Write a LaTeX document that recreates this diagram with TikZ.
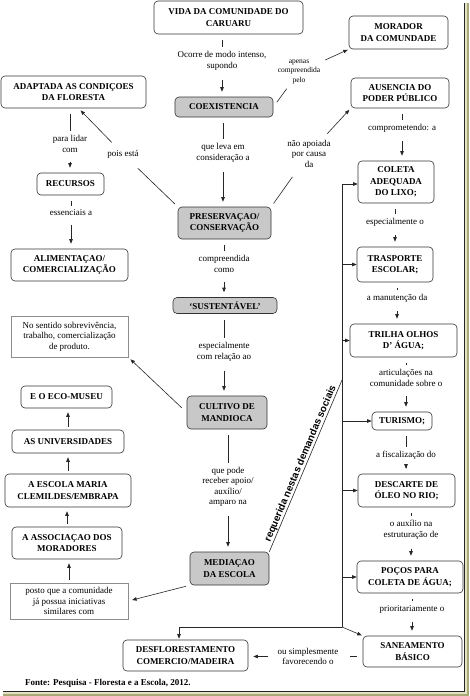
\documentclass[tikz,border=0pt]{standalone}
\usepackage{fontspec}
\setmainfont{Liberation Serif}
\setsansfont{Liberation Sans}
\usetikzlibrary{arrows.meta}
\definecolor{boxgray}{RGB}{200,200,200}
\definecolor{frameA}{RGB}{228,228,196}
\definecolor{frameB}{RGB}{170,170,120}
\begin{document}
\begin{tikzpicture}[x=1pt,y=-1pt,
  cbox/.style 2 args={draw=black!80, line width=0.6pt, rounded corners=4pt,
    font=\bfseries\fontsize{9}{11.5}\selectfont, align=center, inner sep=0pt,
    minimum width=#1, minimum height=#2},
  gbox/.style 2 args={cbox={#1}{#2}, fill=boxgray},
  nbox/.style 2 args={draw=black!45, line width=0.5pt, font=\fontsize{9}{10.5}\selectfont,
    align=center, inner sep=0pt, minimum width=#1, minimum height=#2},
  lbl/.style={font=\fontsize{9}{10.5}\selectfont, align=center, inner sep=3pt},
  slbl/.style={font=\fontsize{7.5}{9.5}\selectfont, align=center, inner sep=2pt},
  ln/.style={draw=black!85, line width=0.6pt, shorten <=6pt, shorten >=1pt},
  ar/.style={draw=black!85, line width=0.6pt, shorten <=6pt, shorten >=5pt,
    -{Triangle[length=4.5pt,width=3.5pt]}},
  bus/.style={draw=black!85, line width=0.6pt},
  busar/.style={bus, -{Triangle[length=4.5pt,width=3.5pt]}},
]
\fill[white] (0,0) rectangle (469,696);
\useasboundingbox (0,0) rectangle (469,696);
% frame shadow
\fill[frameA] (465,3) rectangle (467,693);
\fill[frameB] (467,3) rectangle (469,696);
\fill[frameA] (3,692) rectangle (467,694);
\fill[frameB] (3,694) rectangle (469,696);
\draw[black!85, line width=0.8pt] (464.6,3) -- (464.6,691.4) -- (3,691.4);

% concept boxes
\node[cbox={149pt}{33pt}] (vida) at (228.5,17.5) {VIDA DA COMUNIDADE DO\\CARUARU};
\node[gbox={98pt}{20pt}] (coex) at (224,107) {COEXISTENCIA};
\node[cbox={99pt}{33pt}] (morador) at (398.5,32.5) {MORADOR\\DA COMUNDADE};
\node[cbox={145pt}{32pt}] (adapt) at (73.5,92) {ADAPTADA AS CONDIÇOES\\DA FLORESTA};
\node[cbox={98pt}{30pt}] (ausen) at (400,93) {AUSENCIA DO\\PODER PÚBLICO};
\node[cbox={76pt}{42pt}] (coleta) at (396,182) {COLETA\\ADEQUADA\\DO LIXO;};
\node[cbox={67pt}{22pt}] (recur) at (70.5,184) {RECURSOS};
\node[cbox={117pt}{32pt}] (alim) at (69.5,265) {ALIMENTAÇAO/\\COMERCIALIZAÇÃO};
\node[gbox={93pt}{32pt}] (preserv) at (224.5,223) {PRESERVAÇAO/\\CONSERVAÇÃO};
\node[gbox={104pt}{16pt}] (sust) at (225,305.5) {‘SUSTENTÁVEL’};
\node[nbox={117pt}{41pt}] (nota) at (69.5,336.5) {No sentido sobrevivência,\\trabalho, comercialização\\de produto.};
\node[cbox={76pt}{35pt}] (trasp) at (395,264.5) {TRASPORTE\\ESCOLAR;};
\node[cbox={107pt}{33pt}] (trilha) at (403.5,340.5) {TRILHA OLHOS\\D’ ÁGUA;};
\node[cbox={91pt}{22pt}] (eco) at (66.5,397) {E O ECO-MUSEU};
\node[cbox={112pt}{23pt}] (univ) at (68,441.5) {AS UNIVERSIDADES};
\node[cbox={126pt}{33pt}] (escola) at (68,490.5) {A ESCOLA MARIA\\CLEMILDES/EMBRAPA};
\node[gbox={80pt}{33pt}] (cultivo) at (227,412.5) {CULTIVO DE\\MANDIOCA};
\node[cbox={60pt}{18pt}] (turismo) at (402,421) {TURISMO;};
\node[cbox={97pt}{33pt}] (descarte) at (406.5,490.5) {DESCARTE DE\\ÓLEO NO RIO;};
\node[cbox={110pt}{32pt}] (assoc) at (67,543) {A ASSOCIAÇAO DOS\\MORADORES};
\node[nbox={118pt}{36pt}] (posto) at (69,601) {posto que a comunidade\\já possua iniciativas\\similares com};
\node[gbox={79pt}{33pt}] (media) at (229.5,568.5) {MEDIAÇAO\\DA ESCOLA};
\node[cbox={106pt}{32pt}] (pocos) at (410,577) {POÇOS PARA\\COLETA DE ÁGUA;};
\node[cbox={99pt}{31pt}] (sanea) at (412.5,651.5) {SANEAMENTO\\BÁSICO};
\node[cbox={125pt}{31pt}] (desflo) at (185.5,655.5) {DESFLORESTAMENTO\\COMERCIO/MADEIRA};
\node[font=\bfseries\fontsize{9}{11}\selectfont, anchor=west, inner sep=0pt] (fonte) at (25,683) {Fonte: Pesquisa - Floresta e a Escola, 2012.};

% linking phrases
\node[lbl] (l1) at (222,61) {Ocorre de modo intenso,\\supondo};
\node[slbl] (l2) at (299,72) {apenas\\compreendida\\pelo};
\node[lbl] (l3) at (223,153) {que leva em\\consideração a};
\node[lbl] (l4) at (123,154) {pois está};
\node[lbl] (l5) at (309,153.5) {não apoiada\\por causa\\da};
\node[lbl] (l6) at (402,128) {comprometendo: a};
\node[lbl] (l7) at (70,144) {para lidar\\com};
\node[lbl] (l8) at (71,213) {essenciais a};
\node[lbl] (l9) at (224,264) {compreendida\\como};
\node[lbl] (l10) at (224,352) {especialmente\\com relação ao};
\node[lbl] (l11) at (228,487) {que pode\\receber apoio/\\auxílio/\\amparo na};
\node[lbl] (l12) at (395,222) {especialmente o};
\node[lbl] (l13) at (397,298) {a manutenção da};
\node[lbl] (l14) at (406,378) {articulações na\\comunidade sobre o};
\node[lbl] (l15) at (406,455) {a fiscalização do};
\node[lbl] (l16) at (411,530) {o auxílio na\\estruturação de};
\node[lbl] (l17) at (412,609) {prioritariamente o};
\node[lbl] (l18) at (308,656.5) {ou simplesmente\\favorecendo o};

% connectors
\draw[ln] (vida.south -| l1) -- (l1);
\draw[ar] (l1) -- (l1 |- coex.north);
\draw[ln, shorten >=3pt] (coex.east) -- (l2);
\draw[ar, shorten <=3pt, shorten >=1pt] (l2) -- (morador.south west);
\draw[ln] (coex.south -| l3) -- (l3);
\draw[ar] (l3) -- (l3 |- preserv.north);
\draw[ln, shorten <=4pt, shorten >=10pt] (preserv.north west) -- (l4);
\draw[ar, shorten <=6pt, shorten >=3pt] (l4) -- ([xshift=5pt]adapt.south);
\draw[ln, shorten <=4pt, shorten >=8pt] (preserv.north east) -- (l5);
\draw[ar, shorten <=4pt, shorten >=2pt] (l5) -- (ausen.south west);
\draw[ln] (ausen.south -| l6) -- (l6);
\draw[ar] (l6) -- (l6 |- coleta.north);
\draw[ln] (adapt.south -| l7) -- (l7);
\draw[ar] (l7) -- (l7 |- recur.north);
\draw[ln] (recur.south -| l8) -- (l8);
\draw[ar] (l8) -- (l8 |- alim.north);
\draw[ln] (preserv.south -| l9) -- (l9);
\draw[ar] (l9) -- (l9 |- sust.north);
\draw[ln] (sust.south -| l10) -- (l10);
\draw[ar] (l10) -- (l10 |- cultivo.north);
\draw[ar, shorten <=7pt, shorten >=3pt] (cultivo.west) -- (nota.south east);
\draw[ln] (cultivo.south -| l11) -- (l11);
\draw[ar] (l11) -- (l11 |- media.north);
\draw[ar, shorten <=4pt, shorten >=4pt] (media.south west) -- (posto.east);
\draw[ar, shorten <=3pt, shorten >=4pt] (posto.north) -- (posto.north |- assoc.south);
\draw[ar, shorten <=3pt, shorten >=4pt] (assoc.north) -- (assoc.north |- escola.south);
\draw[ar, shorten <=3pt, shorten >=4pt] (escola.north) -- (escola.north |- univ.south);
\draw[ar, shorten <=3pt, shorten >=4pt] (univ.north) -- (univ.north |- eco.south);
\draw[ln] (coleta.south -| l12) -- (l12);
\draw[ar] (l12) -- (l12 |- trasp.north);
\draw[ln] (trasp.south -| l13) -- (l13);
\draw[ar] (l13) -- (l13 |- trilha.north);
\draw[ln] (trilha.south -| l14) -- (l14);
\draw[ar] (l14) -- (l14 |- turismo.north);
\draw[ln] (turismo.south -| l15) -- (l15);
\draw[ar] (l15) -- (l15 |- descarte.north);
\draw[ln] (descarte.south -| l16) -- (l16);
\draw[ar] (l16) -- (l16 |- pocos.north);
\draw[ln] (pocos.south -| l17) -- (l17);
\draw[ar] (l17) -- (l17 |- sanea.north);
\draw[ln, shorten >=8pt] (sanea.west |- l18) -- (l18);
\draw[ar] (l18) -- (l18 -| desflo.east);

% bus of social demands
\coordinate (bt) at (342,184);
\coordinate (bj) at (342,380);
\coordinate (bb) at (342,627);
\draw[bus] (bt) -- (bb);
\draw[busar] (bt) -- (bt -| coleta.west);
\draw[busar] (bt |- trasp.west) -- (trasp.west);
\draw[busar] (bt |- trilha.west) -- (trilha.west);
\draw[busar] (bt |- turismo.west) -- (turismo.west);
\draw[busar] (bt |- descarte.west) -- (descarte.west);
\draw[busar] (bt |- pocos.west) -- (pocos.west);
\draw[busar, shorten >=1pt] (bb) -| ([xshift=-6.5pt]desflo.north);
\draw[busar, shorten >=1pt] (bb) -- (sanea.north west);
\draw[bus] (media.north east) -- node[sloped, above, inner sep=0.5pt,
   font=\sffamily\bfseries\fontsize{10}{12}\selectfont] {requerida nestas demandas sociais} (bj);
\end{tikzpicture}
\end{document}
